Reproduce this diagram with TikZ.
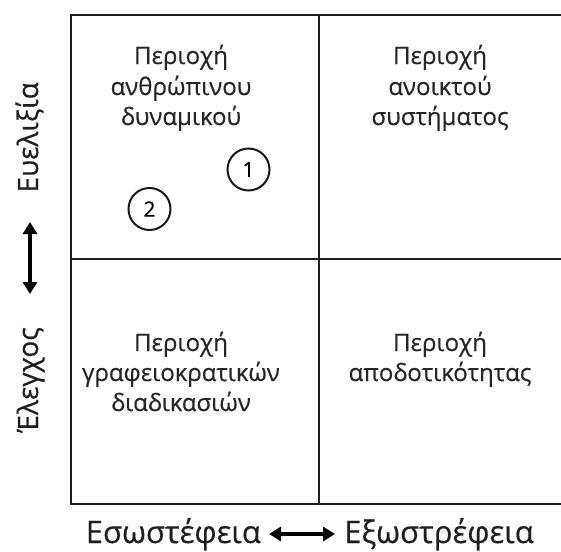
\documentclass[tikz,border=0pt]{standalone}
\usepackage{fontspec}
\setmainfont{Open Sans}[FakeBold=0.4]
\usetikzlibrary{arrows.meta}
\begin{document}
\begin{tikzpicture}[x=1pt,y=1pt,
  grid/.style={line width=2.6pt,draw=black!88},
  celltext/.style={anchor=base,font=\fontsize{24}{30}\selectfont,text=black!85,inner sep=0pt},
  axislabel/.style={font=\fontsize{31}{36}\selectfont,text=black!88,inner sep=0pt},
  sidelabel/.style={font=\fontsize{28}{32}\selectfont,text=black!88,inner sep=0pt,rotate=90,anchor=base east},
  numcircle/.style={circle,draw=black!90,line width=2pt,minimum size=42pt,inner sep=0pt,font=\fontsize{21}{24}\selectfont},
  dblarrow/.style={line width=4pt,{Triangle[length=12pt,width=14pt]}-{Triangle[length=12pt,width=14pt]}}]
\useasboundingbox (0,0) rectangle (561,-551);
% grid
\coordinate (tl) at (71,-15);
\coordinate (tr) at (561,-15);
\coordinate (bl) at (71,-504);
\coordinate (br) at (561,-504);
\coordinate (mt) at (319,-15);
\coordinate (mb) at (319,-504);
\coordinate (ml) at (71,-259);
\coordinate (mr) at (561,-259);
\draw[grid] (tr) -- (tl) -- (bl) -- (br);
\draw[grid] (mt) -- (mb);
\draw[grid] (ml) -- (mr);
% cell texts
\node[celltext] (q1a) at (181,-64) {Περιοχή};
\node[celltext] (q1b) at (181,-95) {ανθρώπινου};
\node[celltext] (q1c) at (181,-125) {δυναμικού};
\node[celltext] (q2a) at (440,-64) {Περιοχή};
\node[celltext] (q2b) at (440,-95) {ανοικτού};
\node[celltext] (q2c) at (440,-125) {συστήματος};
\node[celltext] (q3a) at (181,-351) {Περιοχή};
\node[celltext] (q3b) at (181,-381) {γραφειοκρατικών};
\node[celltext] (q3c) at (181,-411) {διαδικασιών};
\node[celltext] (q4a) at (440,-351) {Περιοχή};
\node[celltext] (q4b) at (440,-381) {αποδοτικότητας};
% circles
\node[numcircle] (c1) at (248.5,-169.5) {1};
\node[numcircle] (c2) at (149.5,-209) {2};
% bottom axis
\node[axislabel,anchor=base east] (intro) at (261,-543) {Εσωστέφεια};
\node[axislabel,anchor=base west] (extro) at (344,-543) {Εξωστρέφεια};
\coordinate (ia) at (269,-534);
\coordinate (ea) at (335,-534);
\draw[dblarrow] (ia) -- (ea);
% left axis
\node[sidelabel] (flex) at (38,-82) {Ευελιξία};
\node[sidelabel] (ctrl) at (38,-327) {Έλεγχος};
\coordinate (fa) at (30,-222);
\coordinate (ca) at (30,-294);
\draw[dblarrow] (fa) -- (ca);
\end{tikzpicture}
\end{document}
